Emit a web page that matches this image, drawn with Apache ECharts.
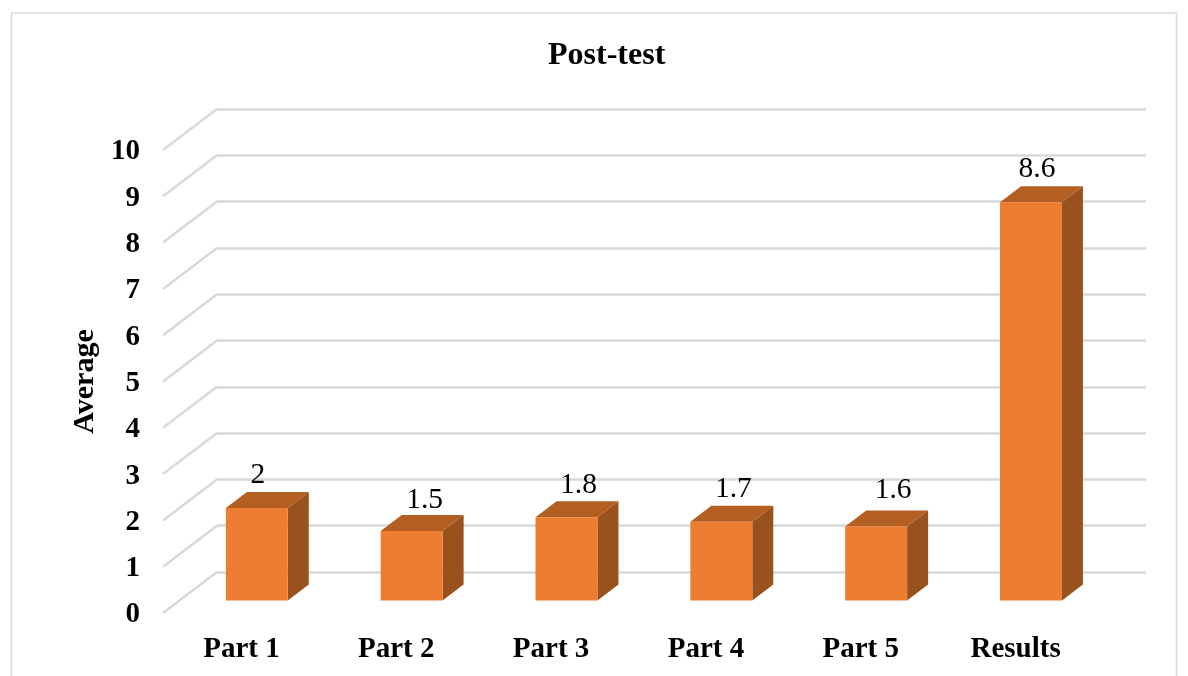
<!DOCTYPE html>
<html><head><meta charset="utf-8">
<style>html,body{margin:0;padding:0;background:#fff}#c{width:1188px;height:676px}</style>
<script src="https://cdn.jsdelivr.net/npm/echarts@6/dist/echarts.min.js"></script>
</head><body><div id="c"></div>
<script>
const categories = ['Part 1','Part 2','Part 3','Part 4','Part 5','Results'];
const averages = [2, 1.5, 1.8, 1.7, 1.6, 8.6];
const yTicks = [0,1,2,3,4,5,6,7,8,9,10];
const labelNudgeX = [1, 13, 12, 12, 17, 6];
const labelNudgeY = [5, 7, 6, 5, 2, 5];
const serif = '"Liberation Serif","Times New Roman",serif';
const wallDX = 54, wallDY = -41;   // floor depth
const barDX = 16.4, barDY = -12.5; // bar position inside the floor depth
const depthX = 21, depthY = -16;   // bar depth
const chart = echarts.init(document.getElementById('c'), null, {renderer:'canvas'});
chart.setOption({
  animation:false,
  backgroundColor:'#fff',
  title:{text:'Post-test',left:543,top:35,
    textStyle:{fontFamily:serif,fontWeight:'bold',fontSize:32,color:'#000'}},
  graphic:[{type:'rect',z:-1,shape:{x:11.5,y:13,width:1165,height:680},
    style:{fill:'none',stroke:'#d9d9d9',lineWidth:1.5}}],
  grid:[
    {left:163,right:96,top:150,bottom:63},
    {left:217,right:42,top:109,bottom:104}
  ],
  xAxis:[
    {type:'category',gridIndex:0,data:categories,axisLine:{show:false},axisTick:{show:false},
      axisLabel:{margin:22,fontFamily:serif,fontWeight:'bold',fontSize:29,color:'#000',padding:[0,0,0,2]}},
    {type:'category',gridIndex:1,data:categories,show:false}
  ],
  yAxis:[
    {type:'value',gridIndex:0,min:0,max:10,interval:1,name:'Average',nameLocation:'middle',nameRotate:90,nameGap:57,
      nameTextStyle:{fontFamily:serif,fontWeight:'bold',fontSize:30,color:'#000'},
      axisLine:{show:false},axisTick:{show:false},splitLine:{show:false},
      axisLabel:{margin:23,fontFamily:serif,fontWeight:'bold',fontSize:29,color:'#000',verticalAlign:'top',lineHeight:4}},
    {type:'value',gridIndex:1,min:0,max:10,interval:1,axisLine:{show:false},axisTick:{show:false},axisLabel:{show:false},
      splitLine:{show:true,lineStyle:{color:'#d9d9d9',width:2.5}}}
  ],
  series:[
    {type:'custom',xAxisIndex:0,yAxisIndex:0,data:yTicks.map(v=>[0,v]),silent:true,z:1,
      renderItem(params,api){
        const p=api.coord([0,api.value(1)]);
        const x=params.coordSys.x;
        return {type:'line',shape:{x1:x,y1:p[1],x2:x+wallDX,y2:p[1]+wallDY},
          style:{stroke:'#d9d9d9',lineWidth:2.5,fill:'none'}};
      }},
    {type:'custom',xAxisIndex:0,yAxisIndex:0,data:averages.map((v,i)=>[i,v]),silent:true,z:3,
      renderItem(params,api){
        const v=api.value(1);
        const c=api.coord([api.value(0),v]);
        const b=api.coord([api.value(0),0]);
        const w=api.size([1,0])[0]*0.4;
        const l=c[0]+barDX-w/2, r=l+w, t=c[1]+barDY, bt=b[1]+barDY;
        const i=params.dataIndex;
        return {type:'group',children:[
          {type:'polygon',shape:{points:[[r,t],[r+depthX,t+depthY],[r+depthX,bt+depthY],[r,bt]]},style:{fill:'#99511e'}},
          {type:'polygon',shape:{points:[[l,t],[l+depthX,t+depthY],[r+depthX,t+depthY],[r,t]]},style:{fill:'#b35f22'}},
          {type:'rect',shape:{x:l,y:t,width:w,height:bt-t},style:{fill:'#ed7d31'}},
          {type:'text',style:{text:String(v),x:(l+r)/2+labelNudgeX[i],y:t+depthY-7+labelNudgeY[i],align:'center',verticalAlign:'bottom',
            font:'29.5px '+serif,fill:'#000'}}
        ]};
      }}
  ]
});
</script></body></html>
